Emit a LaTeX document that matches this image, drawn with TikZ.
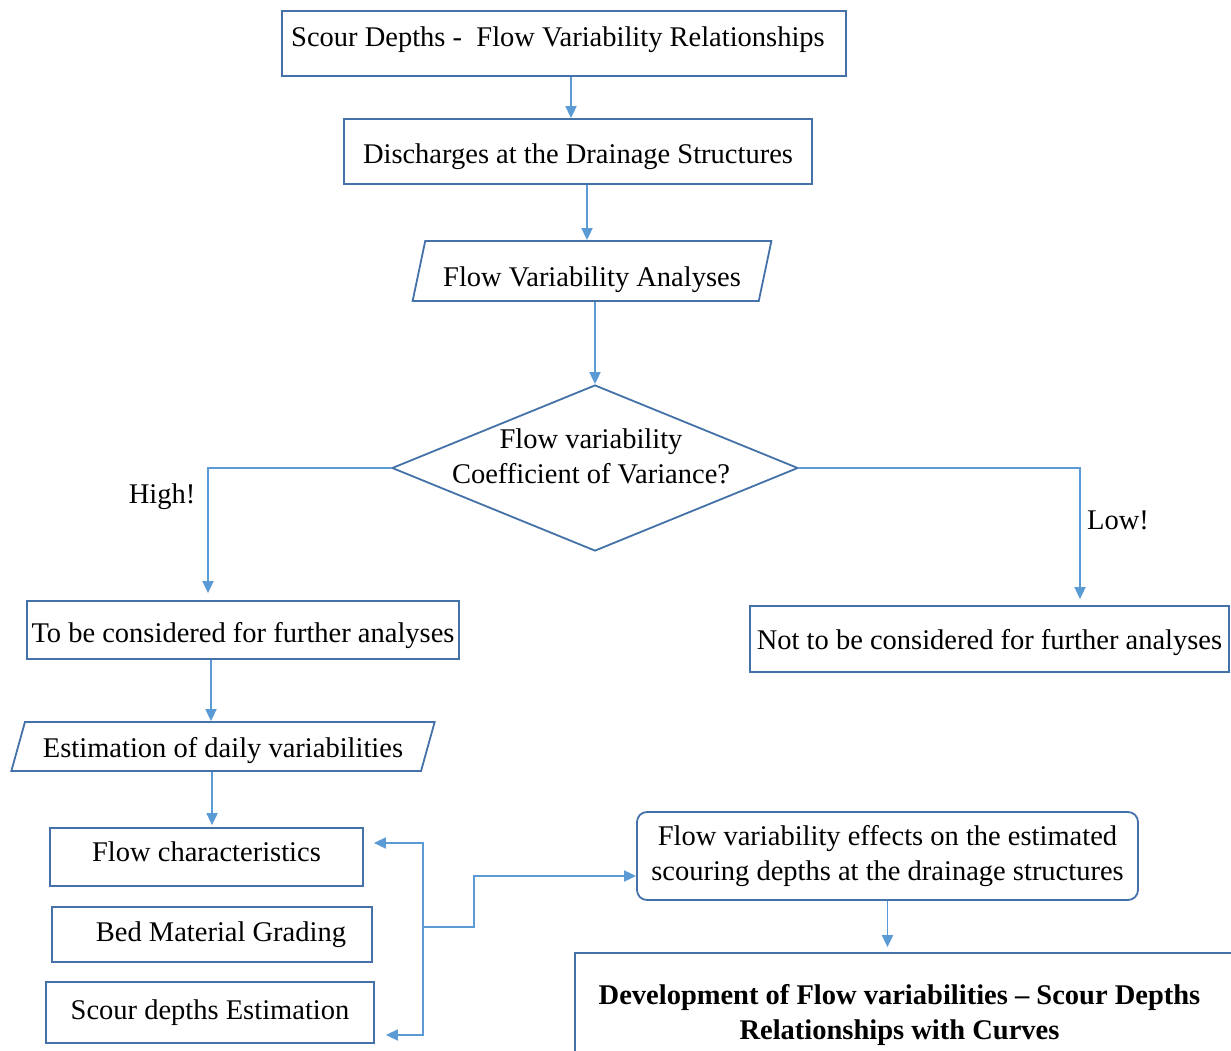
\documentclass[tikz,border=0pt]{standalone}
\usepackage{fontspec}
\setmainfont{Liberation Serif}
\usetikzlibrary{shapes.geometric,arrows.meta,calc}
\definecolor{boxc}{HTML}{4472A8}
\definecolor{linec}{HTML}{5B9BD5}
\begin{document}
\begin{tikzpicture}[x=1pt,y=-1pt,
  txt/.style={font=\fontsize{28.5}{35}\selectfont, text=black, align=center},
  box/.style={txt, draw=boxc, line width=1.8pt, rectangle, inner sep=0pt},
  para/.style={txt, draw=boxc, line width=1.8pt, trapezium, trapezium stretches=true, inner sep=0pt},
  conn/.style={draw=linec, line width=1.8pt},
  tip/.style={-{Triangle[length=12pt,width=11pt]}},
  dtip/.style={{Triangle[length=12pt,width=11pt]}-{Triangle[length=12pt,width=11pt]}}]
\useasboundingbox (0,0) rectangle (1231,1051);
\fill[white] (0,0) rectangle (1231,1051);

\node[box, minimum width=564pt, minimum height=65pt, text height=20pt, text depth=14pt] (t1) at (564,43.5) {\hspace*{-12pt}Scour Depths -\ \ Flow Variability Relationships};
\node[box, minimum width=468pt, minimum height=65pt, text height=30pt, text depth=6pt] (dis) at (578,151.5) {Discharges at the Drainage Structures};
\node[para, trapezium left angle=75, trapezium right angle=105, minimum width=360pt, minimum height=60pt, text height=36pt, text depth=6pt] (p1) at (592,271) {Flow Variability Analyses};
\node[draw=boxc, line width=1.8pt, diamond, minimum width=406pt, minimum height=166pt, inner sep=0pt] (d) at (595,468) {};
\node[txt] (dtext) at (591,456) {Flow variability\\Coefficient of Variance?};
\node[box, minimum width=432pt, minimum height=58pt, text height=30pt, text depth=6pt] (lb) at (243,630) {To be considered for further analyses};
\node[box, minimum width=479pt, minimum height=66pt, text height=26pt, text depth=6pt] (rb) at (989.5,639) {Not to be considered for further analyses};
\node[txt] (high) at (162,497) {High!};
\node[txt] (low) at (1118,520) {Low!};
\node[para, trapezium left angle=70, trapezium right angle=110, minimum width=424pt, minimum height=49pt, text height=28pt, text depth=6pt] (p2) at (223,746.5) {Estimation of daily variabilities};
\node[box, minimum width=313pt, minimum height=58pt, text height=20pt, text depth=12pt] (fc) at (206.5,857) {Flow characteristics};
\node[box, minimum width=320pt, minimum height=55pt] (bm) at (212,934.5) {\hspace*{18pt}Bed Material Grading};
\node[box, minimum width=328pt, minimum height=61pt] (sd) at (210,1012.5) {Scour depths Estimation};
\node[box, rounded corners=10pt, minimum width=501pt, minimum height=88pt] (fx) at (887.5,856) {Flow variability effects on the estimated\\scouring depths at the drainage structures};
\node[box, minimum width=665pt, minimum height=124pt, font=\fontsize{28.5}{35}\selectfont\bfseries] (bot) at (907.5,1015) {\hspace*{-16pt}Development of Flow variabilities -- Scour Depths\\\hspace*{-16pt}Relationships with Curves};
\coordinate (bx) at (423,927);

\draw[conn,tip] ($(t1.south)+(7,0)$) -- ($(t1.south |- dis.north)+(7,0)$);
\draw[conn,tip] ($(dis.south)+(9,0)$) -- ($(dis.south |- p1.north)+(9,0)$);
\draw[conn,tip] (p1.south -| d.north) -- (d.north);
\draw[conn,tip] (d.west) -| ($(lb.north)+(-35,-7)$);
\draw[conn,tip] (d.east) -| ($(rb.north)+(90.5,-6)$);
\draw[conn,tip] ($(lb.south)+(-32,0)$) -- ($(lb.south |- p2.north)+(-32,0)$);
\draw[conn,tip] ($(p2.south)+(-11,0)$) -- ($(p2.south |- fc.north)+(-11,-2)$);
\draw[conn,dtip] ($(fc.east)+(10,-14)$) -| (bx) |- ($(sd.east)+(11,22.5)$);
\draw[conn,tip] (bx) -- ++(51,0) |- ($(fx.west)+(0,20)$);
\draw[conn,tip] (fx.south) -- ($(fx.south |- bot.north)+(0,-5)$);
\end{tikzpicture}
\end{document}
